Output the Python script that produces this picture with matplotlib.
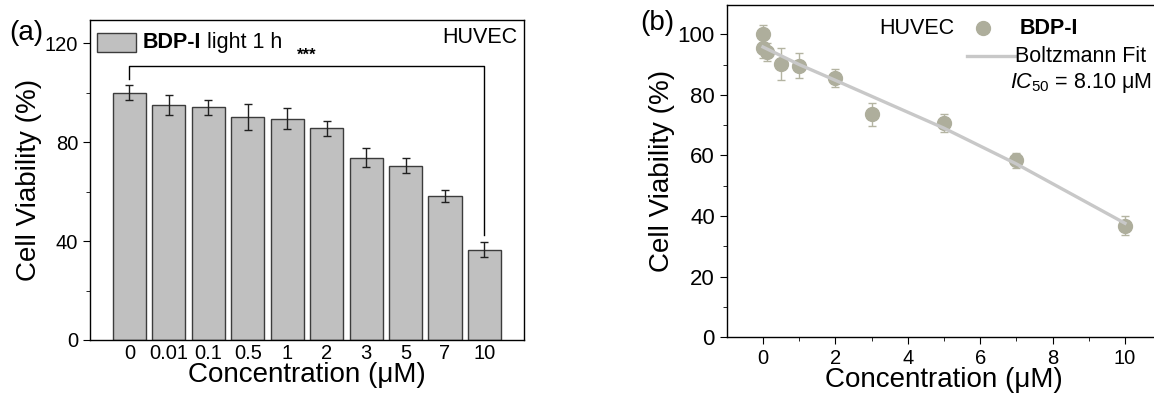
import matplotlib.pyplot as plt
import matplotlib.patches as mpatches
import numpy as np

plt.rcParams['font.family'] = ['Liberation Sans', 'DejaVu Sans']
plt.rcParams['mathtext.fontset'] = 'custom'
plt.rcParams['mathtext.rm'] = 'Liberation Sans'
plt.rcParams['mathtext.it'] = 'Liberation Sans:italic'

# panel (a) data
conc_labels = ['0', '0.01', '0.1', '0.5', '1', '2', '3', '5', '7', '10']
viab = [100, 95.2, 94.2, 90.1, 89.5, 85.6, 73.7, 70.5, 58.2, 36.6]
viab_err = [3.0, 4.0, 3.0, 5.2, 4.2, 3.0, 3.8, 3.0, 2.5, 3.2]

# panel (b) data
conc = [0, 0.01, 0.1, 0.5, 1, 2, 3, 5, 7, 10]
viab_b = [100, 95.5, 94.2, 90.2, 89.6, 85.6, 73.6, 70.6, 58.4, 36.8]
err_b = [3.0, 3.5, 3.0, 5.2, 4.2, 3.0, 3.8, 3.0, 2.5, 3.2]
fit_x = [0, 1, 2, 5, 7, 10]
fit_y = [95.8, 90.0, 84.8, 69.0, 57.2, 37.6]

TXT = 15.5
TICK = 14.5
LAB = 20

fig = plt.figure(figsize=(11.54, 3.99), dpi=100)

# ---------- (a) ----------
ax1 = fig.add_axes([0.078, 0.148, 0.376, 0.802])
idx = np.arange(len(viab))
ax1.bar(idx, viab, width=0.84, color='#c0c0c0', edgecolor='#3c3c3c', linewidth=1.0)
ax1.errorbar(idx, viab, yerr=viab_err, fmt='none', ecolor='#202020', elinewidth=1.0,
             capsize=3, capthick=1.0)
ax1.set_xlim(-1, 10)
ax1.set_ylim(0, 129.5)
ax1.set_xticks(idx)
ax1.set_xticklabels(conc_labels)
ax1.set_yticks([0, 40, 80, 120])
ax1.set_yticks([20, 60, 100], minor=True)
ax1.tick_params(axis='x', length=0, labelsize=TICK, pad=3)
ax1.tick_params(axis='y', direction='out', length=5, labelsize=TICK)
ax1.tick_params(axis='y', which='minor', direction='out', length=3)
ax1.set_xlabel('Concentration (\u03bcM)', fontsize=LAB, labelpad=-1)
ax1.set_ylabel('Cell Viability (%)', fontsize=LAB, labelpad=2)
for s in ax1.spines.values():
    s.set_linewidth(1.0)

# significance bracket
ax1.plot([0, 0, 9, 9], [105.5, 111, 111, 42.5], color='black', lw=1.0)
ax1.text(4.5, 112, '***', ha='center', va='bottom', fontsize=12, fontweight='bold')
ax1.text(0.984, 0.944, 'HUVEC', transform=ax1.transAxes, ha='right', va='center',
         fontsize=TXT)

# legend patch
ax1.add_patch(mpatches.Rectangle((0.016, 0.9), 0.09, 0.059, transform=ax1.transAxes,
                                 facecolor='#c0c0c0', edgecolor='#3c3c3c', lw=1.0,
                                 clip_on=False))
t1 = ax1.text(0.122, 0.931, 'BDP-I', transform=ax1.transAxes, ha='left', va='center',
              fontsize=TXT, fontweight='bold')
ax1.annotate(' light 1 h', xy=(1, 0.5), xycoords=t1, ha='left', va='center',
             fontsize=TXT)
fig.text(0.008, 0.95, '(a)', fontsize=LAB, va='top')

# ---------- (b) ----------
ax2 = fig.add_axes([0.6298, 0.155, 0.3764, 0.832])
ax2.errorbar(conc, viab_b, yerr=err_b, fmt='o', color='#aeae9c', markersize=10,
             ecolor='#b4b4a2', elinewidth=1.0, capsize=3, capthick=1.0, zorder=3)
ax2.plot(fit_x, fit_y, color='#c8c8c8', lw=2.4, zorder=4)
ax2.set_xlim(-1, 11)
ax2.set_ylim(0, 109.6)
ax2.set_xticks([0, 2, 4, 6, 8, 10])
ax2.set_xticks([1, 3, 5, 7, 9], minor=True)
ax2.set_yticks([0, 20, 40, 60, 80, 100])
ax2.set_yticks([10, 30, 50, 70, 90], minor=True)
ax2.tick_params(direction='out', length=5, labelsize=TICK)
ax2.tick_params(axis='y', labelsize=TICK + 1.5)
ax2.tick_params(which='minor', direction='out', length=3)
ax2.set_xlabel('Concentration (\u03bcM)', fontsize=LAB, labelpad=-1)
ax2.set_ylabel('Cell Viability (%)', fontsize=LAB, labelpad=2)
for s in ax2.spines.values():
    s.set_linewidth(1.0)

# legend-like annotations
ax2.text(0.352, 0.931, 'HUVEC', transform=ax2.transAxes, ha='left', va='center',
         fontsize=TXT)
ax2.plot([0.59], [0.931], 'o', color='#aeae9c', markersize=10, transform=ax2.transAxes,
         clip_on=False)
ax2.text(0.675, 0.931, 'BDP-I', transform=ax2.transAxes, ha='left', va='center',
         fontsize=TXT, fontweight='bold')
ax2.plot([0.553, 0.665], [0.846, 0.846], color='#c8c8c8', lw=2.4,
         transform=ax2.transAxes, clip_on=False)
ax2.text(0.663, 0.846, 'Boltzmann Fit', transform=ax2.transAxes, ha='left', va='center',
         fontsize=TXT)
ax2.text(0.652, 0.765, r'$\mathit{IC}_{\mathit{50}}$' + ' = 8.10 \u03bcM',
         transform=ax2.transAxes, ha='left', va='center', fontsize=TXT)
fig.text(0.555, 0.975, '(b)', fontsize=LAB, va='top')

fig.savefig('out.png', dpi=100)
